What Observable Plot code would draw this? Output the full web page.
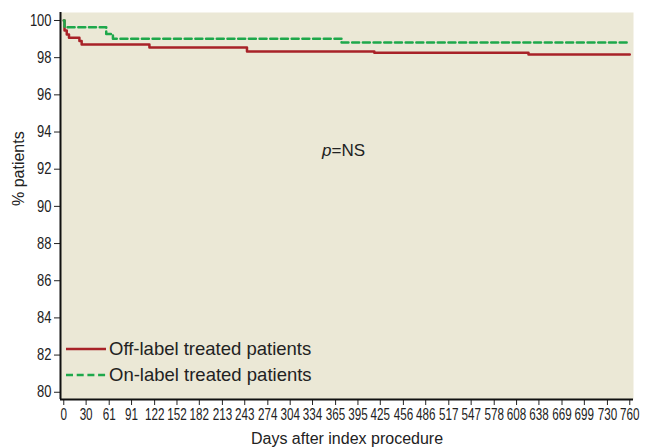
<!DOCTYPE html>
<html>
<head>
<meta charset="utf-8">
<script src="https://cdn.jsdelivr.net/npm/d3@7"></script>
<script src="https://cdn.jsdelivr.net/npm/@observablehq/plot@0.6"></script>
<style>
  html, body { margin: 0; padding: 0; background: #fff; }
  #chart { position: relative; width: 646px; height: 448px; }
  #legend { position: absolute; left: 0; top: 0; pointer-events: none; }
</style>
</head>
<body>
<div id="chart"></div>
<script>
// ---- Data ----
const offDays = [0, 1, 4, 7, 21, 24, 115, 246, 417, 624, 760];
const offPct  = [100, 99.46, 99.25, 99.07, 98.9, 98.71, 98.55, 98.33, 98.26, 98.17, 98.17];

const onDays = [0, 1, 57, 66, 373, 760];
const onPct  = [100, 99.63, 99.28, 99.02, 98.82, 98.82];

const xTicks = [0, 30, 61, 91, 122, 152, 182, 213, 243, 274, 304, 334, 365, 395, 425, 456, 486, 517, 547, 578, 608, 638, 669, 699, 730, 760];
const yTicks = [80, 82, 84, 86, 88, 90, 92, 94, 96, 98, 100];

const seriesNames = ["Off-label treated patients", "On-label treated patients"];
const xLabel = "Days after index procedure";
const yLabel = "% patients";
const annotation = {day: 359.5, pct: 93.0, italic: "p", rest: "=NS"};

const xDomain = [-4.4, 765];
const yDomain = [79.61, 100.43];

const off = offDays.map((d, i) => ({day: d, pct: offPct[i]}));
const on = onDays.map((d, i) => ({day: d, pct: onPct[i]}));

const red = "#a82228";
const green = "#1ea84b";
const sans = "'Liberation Sans', Arial, sans-serif";

const plot = Plot.plot({
  width: 646,
  height: 448,
  marginLeft: 60,
  marginRight: 13,
  marginTop: 12,
  marginBottom: 49,
  style: {
    fontFamily: sans,
    fontSize: "16px",
    color: "#222",
    background: "#fff"
  },
  x: {domain: xDomain, ticks: xTicks, tickFormat: d => String(d), label: null, tickSize: 6, tickPadding: 3},
  y: {domain: yDomain, ticks: yTicks, tickFormat: d => String(d), label: null, tickSize: 6, tickPadding: 3},
  marks: [
    Plot.frame({fill: "#ebe8d6", stroke: null}),
    Plot.line(off, {x: "day", y: "pct", curve: "step-after", stroke: red, strokeWidth: 2.5}),
    Plot.line(on, {x: "day", y: "pct", curve: "step-after", stroke: green, strokeWidth: 2.5, strokeDasharray: "7,3.7"}),
    Plot.ruleX([xDomain[0]], {stroke: "#111", strokeWidth: 2}),
    Plot.ruleY([yDomain[0]], {stroke: "#111", strokeWidth: 2}),
    Plot.text([annotation], {x: "day", y: "pct", text: "italic", textAnchor: "end", lineAnchor: "middle", fontStyle: "italic", fontFamily: sans, fontSize: 17, fill: "#222"}),
    Plot.text([annotation], {x: "day", y: "pct", text: "rest", textAnchor: "start", lineAnchor: "middle", fontFamily: sans, fontSize: 17, fill: "#222"}),
    Plot.text([xLabel], {frameAnchor: "bottom", dy: 39, lineAnchor: "middle", fontFamily: sans, fontSize: 16, fill: "#222"}),
    Plot.text([yLabel], {frameAnchor: "left", dx: -41.5, rotate: -90, lineAnchor: "middle", fontFamily: sans, fontSize: 16, fill: "#222"})
  ]
});

// Condense the tick labels horizontally (the reference uses a narrow face)
function condense(selector, sx) {
  plot.querySelectorAll(selector).forEach(t => {
    const s = (t.textContent || "").trim();
    if (!s) return;
    const tr = t.getAttribute("transform") || "";
    t.setAttribute("transform", (tr + " scale(" + sx + ",1)").trim());
  });
}
condense('g[aria-label="x-axis tick label"] text, g[aria-label="x-axis"] g text', 0.73);
condense('g[aria-label="y-axis tick label"] text, g[aria-label="y-axis"] g text', 0.81);

const chart = document.getElementById("chart");
chart.appendChild(plot);

// Legend overlay (inside the plot area, bottom-left)
const ns = "http://www.w3.org/2000/svg";
const leg = document.createElementNS(ns, "svg");
leg.setAttribute("id", "legend");
leg.setAttribute("width", 646);
leg.setAttribute("height", 448);
const legendRows = [
  {name: seriesNames[0], color: red, dash: null, y: 349},
  {name: seriesNames[1], color: green, dash: "7,3.7", y: 375}
];
legendRows.forEach(r => {
  const l = document.createElementNS(ns, "line");
  l.setAttribute("x1", 66); l.setAttribute("x2", 106);
  l.setAttribute("y1", r.y); l.setAttribute("y2", r.y);
  l.setAttribute("stroke", r.color); l.setAttribute("stroke-width", 2.5);
  if (r.dash) l.setAttribute("stroke-dasharray", r.dash);
  leg.appendChild(l);
  const t = document.createElementNS(ns, "text");
  t.setAttribute("x", 109); t.setAttribute("y", r.y);
  t.setAttribute("dy", "0.35em");
  t.setAttribute("font-family", sans);
  t.setAttribute("font-size", "18.5px");
  t.setAttribute("fill", "#222");
  t.textContent = r.name;
  leg.appendChild(t);
});
chart.appendChild(leg);
</script>
</body>
</html>
